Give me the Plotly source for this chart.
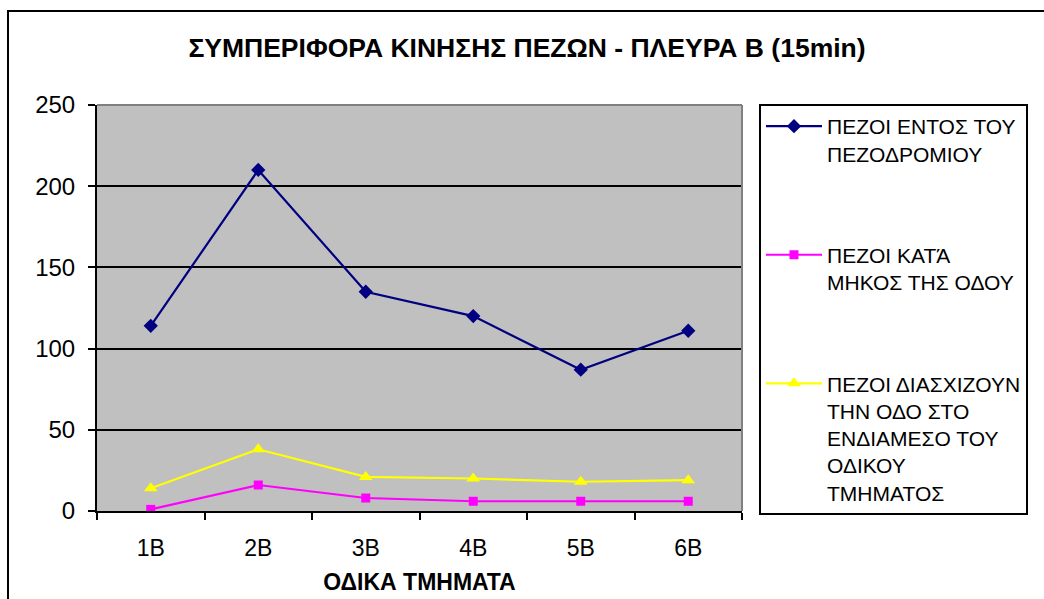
import plotly.graph_objects as go

categories = ["1B", "2B", "3B", "4B", "5B", "6B"]
series_names = [
    "ΠΕΖΟΙ ΕΝΤΟΣ ΤΟΥ<br>ΠΕΖΟΔΡΟΜΙΟΥ",
    "ΠΕΖΟΙ ΚΑΤΆ<br>ΜΗΚΟΣ ΤΗΣ ΟΔΟΥ",
    "ΠΕΖΟΙ ΔΙΑΣΧΙΖΟΥΝ<br>ΤΗΝ ΟΔΟ ΣΤΟ<br>ΕΝΔΙΑΜΕΣΟ ΤΟΥ<br>ΟΔΙΚΟΥ<br>ΤΜΗΜΑΤΟΣ",
]
sidewalk = [114, 210, 135, 120, 87, 111]
along_road = [1, 16, 8, 6, 6, 6]
crossing = [14, 38, 21, 20, 18, 19]
y_ticks = [0, 50, 100, 150, 200, 250]

FONT = "Liberation Sans, Arial, sans-serif"
W, H = 1044, 599
L, R, T, B = 97, 742, 105, 511  # plot area in pixels

def px_x(x):
    return (x - L) / (R - L)

def px_y(y):
    return (B - y) / (B - T)

fig = go.Figure()
styles = [
    (sidewalk, "#000080", "diamond", 11),
    (along_road, "#FF00FF", "square", 9),
    (crossing, "#FFFF00", "triangle-up", 12),
]
for i, (vals, col, sym, sz) in enumerate(styles):
    fig.add_trace(go.Scatter(
        x=categories, y=vals, name=series_names[i], mode="lines+markers",
        line=dict(color=col, width=2.2),
        marker=dict(symbol=sym, size=sz, color=col),
        legendgroup=f"g{i}",
    ))

fig.update_layout(
    width=W, height=H,
    template="none",
    paper_bgcolor="white",
    plot_bgcolor="#C0C0C0",
    margin=dict(l=L, r=W - R, t=T, b=H - B, pad=0),
    font=dict(family=FONT, color="black"),
    title=dict(
        text="ΣΥΜΠΕΡΙΦΟΡΑ ΚΙΝΗΣΗΣ ΠΕΖΩΝ - ΠΛΕΥΡΑ Β (15min)",
        font=dict(size=26.5, weight="bold", family=FONT),
        x=527 / W, xanchor="center", xref="container",
        y=1 - 48 / H, yanchor="middle", yref="container",
    ),
    showlegend=True,
    legend=dict(
        x=px_x(759), y=px_y(104), xanchor="left", yanchor="top",
        bordercolor="black", borderwidth=2, bgcolor="white",
        font=dict(size=21, family=FONT),
        tracegroupgap=71, valign="top", itemwidth=56,
        traceorder="grouped", maxheight=H,
    ),
    xaxis=dict(
        type="category", range=[-0.5, 5.5],
        showline=True, linecolor="black", linewidth=2,
        ticks="outside", tickson="boundaries", ticklen=7, tickwidth=1.5, tickcolor="black",
        showgrid=False, zeroline=False,
        tickfont=dict(size=23, family=FONT),
        ticklabelstandoff=15,
        title=dict(text="ΟΔΙΚΑ ΤΜΗΜΑΤΑ", font=dict(size=23, weight="bold", family=FONT), standoff=14),
        automargin=False,
    ),
    yaxis=dict(
        range=[0, 250], tickvals=y_ticks,
        showline=True, linecolor="black", linewidth=2,
        ticks="outside", ticklen=7, tickwidth=1.5, tickcolor="black",
        showgrid=True, gridcolor="black", gridwidth=1.5,
        zeroline=False,
        tickfont=dict(size=24, family=FONT),
        ticklabelstandoff=8,
        automargin=False,
    ),
    shapes=[
        dict(type="line", xref="paper", yref="paper", x0=0, x1=1, y0=1, y1=1,
             line=dict(color="#808080", width=2), layer="above"),
        dict(type="line", xref="paper", yref="paper", x0=1, x1=1, y0=0, y1=1,
             line=dict(color="#808080", width=2), layer="above"),
        dict(type="rect", xref="paper", yref="paper",
             x0=px_x(8), x1=px_x(W + 4), y0=px_y(H + 4), y1=px_y(11),
             line=dict(color="black", width=2), fillcolor="rgba(0,0,0,0)", layer="above"),
    ],
)

fig.write_html(
    "out.html",
    config={"displayModeBar": False},
    post_script="document.body.style.margin='0px';document.body.style.overflow='hidden';",
)
